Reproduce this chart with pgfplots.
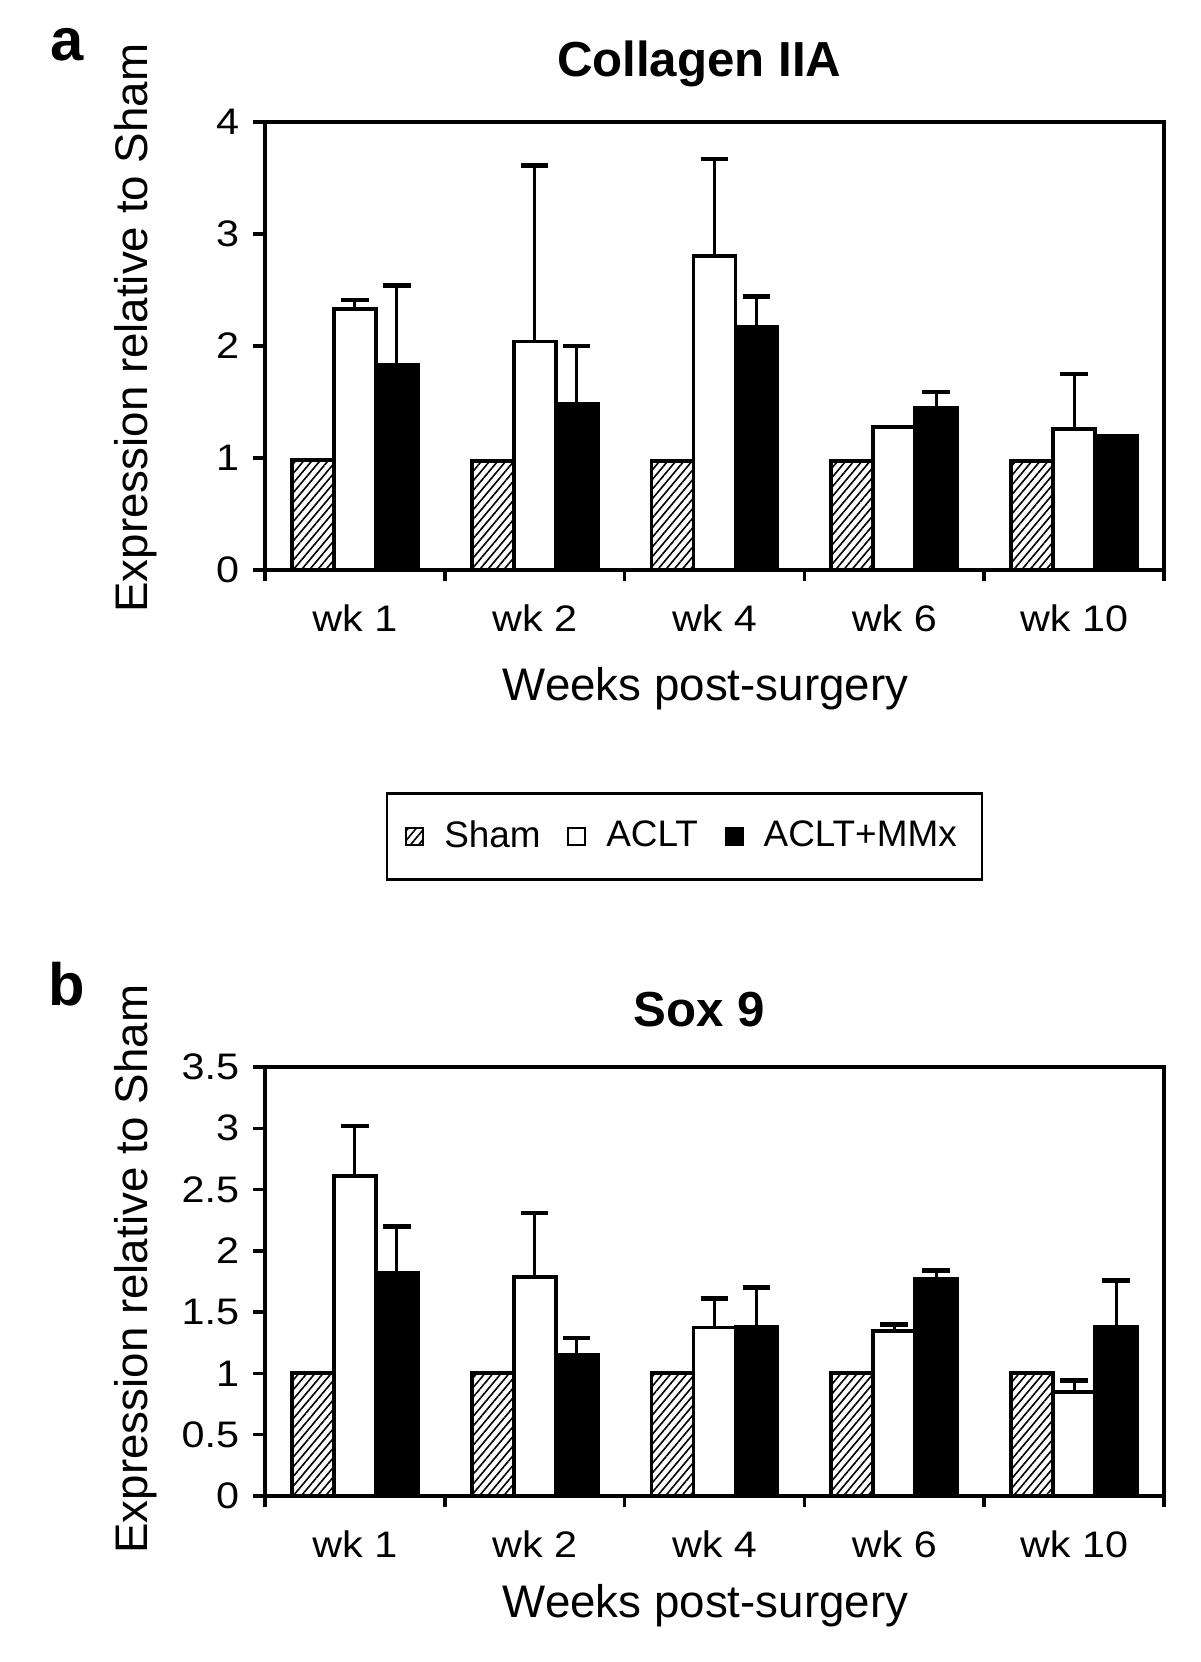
\documentclass[border=0pt]{standalone}
\usepackage{pgfplots}
\pgfplotsset{compat=1.18}
\usepackage{pgfplotstable}
\usepackage{fontspec}
\setmainfont{Liberation Sans}
\usetikzlibrary{patterns.meta}

\pgfplotstableread{
x sham aclt aclte mmx mmxe
0 0.98 2.33 0.08 1.83 0.71
1 0.97 2.04 1.57 1.48 0.52
2 0.97 2.80 0.87 2.17 0.27
3 0.97 1.28 0.00 1.45 0.14
4 0.97 1.26 0.49 1.20 0.00
}\colt

\pgfplotstableread{
x sham aclt aclte mmx mmxe
0 1.00 2.61 0.41 1.82 0.38
1 1.00 1.79 0.52 1.15 0.14
2 1.00 1.375 0.235 1.38 0.32
3 1.00 1.345 0.055 1.77 0.07
4 1.00 0.85 0.09 1.38 0.38
}\sox

\pgfplotsset{
  legsq/.style={legend image code/.code={\draw[##1, line width=0.6pt] (0mm,-0.85mm) rectangle (1.7mm,0.85mm);}},
  errst/.style={error bars/.cd, y dir=plus, y explicit,
     error bar style={line width=0.85pt, black, solid},
     error mark options={rotate=90, mark size=1.38mm, line width=1.3pt, black},
     /pgfplots/.cd},
  shamst/.style={draw=black, line width=1.1pt, pattern={Lines[angle=50, distance=0.62mm, line width=0.16mm]}, legsq, bar shift=-4.2mm},
  acltst/.style={draw=black, fill=white, line width=1.1pt, legsq, bar shift=0mm},
  mmxst/.style={draw=black, fill=black, line width=1.1pt, legsq, bar shift=4.2mm},
  mybars/.style={
    width=89.9mm, scale only axis,
    xmin=-0.5, xmax=4.5, ymin=0,
    ybar=0pt, bar width=4.2mm,
    xtick={0,1,2,3,4},
    xticklabels={wk 1, wk 2, wk 4, wk 6, wk 10},
    minor xtick={-0.5,0.5,1.5,2.5,3.5,4.5},
    major x tick style={draw=none},
    minor x tick style={black, line width=1pt},
    minor tick length=1.1mm,
    major tick length=1.2mm,
    xtick pos=bottom, ytick pos=left,
    tick align=outside,
    y tick style={black, line width=1pt},
    axis line style={line width=1.1pt},
    tick label style={font=\fontsize{10.5}{12}\selectfont, xscale=1.12},
    xticklabel style={yshift=-1mm},
    /pgf/number format/assume math mode=true,
    label style={font=\fontsize{13}{15}\selectfont},
    every axis title/.style={font=\fontsize{14}{16}\selectfont\bfseries, anchor=center},
    xlabel={Weeks post-surgery},
    ylabel={Expression relative to Sham},
  }
}

\begin{document}
\begin{tikzpicture}
\useasboundingbox (0,0) rectangle (120mm,166.2mm);
\node[font=\fontsize{17}{20}\selectfont\bfseries] at (6.7mm,161.7mm) {a};
\node[font=\fontsize{17}{20}\selectfont\bfseries] at (6.7mm,67.8mm) {b};

\begin{axis}[mybars,
  at={(26.5mm,109.2mm)}, anchor=south west,
  height=44.8mm,
  ymax=4, ytick={0,1,2,3,4},
  title={Collagen IIA},
  title style={at={(axis description cs:0.483,1.129)}},
  xlabel style={at={(axis description cs:0.49,-0.265)}, anchor=center},
  ylabel style={at={(axis description cs:-0.1435,0.54)}, anchor=center},
  legend columns=3,
  legend style={at={(axis description cs:0.4666,-0.595)}, anchor=center,
    draw=black, line width=0.7pt, font=\fontsize{10.5}{12}\selectfont,
    inner xsep=1.8mm, inner ysep=2mm,
    /tikz/every odd column/.append style={column sep=1.3mm},
    /tikz/every even column/.append style={column sep=1.95mm}},
]
\addplot[shamst] table[x=x, y=sham]{\colt};
\addplot[acltst] table[x=x, y=aclt]{\colt};
\addplot[mmxst] table[x=x, y=mmx]{\colt};
\legend{Sham, ACLT, ACLT+MMx}
\addplot[acltst, forget plot, skip coords between index={3}{4}, errst] table[x=x, y=aclt, y error plus=aclte]{\colt};
\addplot[mmxst, forget plot, skip coords between index={4}{5}, errst] table[x=x, y=mmx, y error plus=mmxe]{\colt};
\end{axis}

\begin{axis}[mybars,
  at={(26.5mm,16.6mm)}, anchor=south west,
  height=42.9mm,
  ymax=3.5, ytick={0,0.5,...,3.5},
  title={Sox 9},
  title style={at={(axis description cs:0.483,1.135)}},
  xlabel style={at={(axis description cs:0.49,-0.255)}, anchor=center},
  ylabel style={at={(axis description cs:-0.1435,0.529)}, anchor=center},
]
\addplot[shamst] table[x=x, y=sham]{\sox};
\addplot[acltst, errst] table[x=x, y=aclt, y error plus=aclte]{\sox};
\addplot[mmxst, errst] table[x=x, y=mmx, y error plus=mmxe]{\sox};
\end{axis}
\end{tikzpicture}
\end{document}
